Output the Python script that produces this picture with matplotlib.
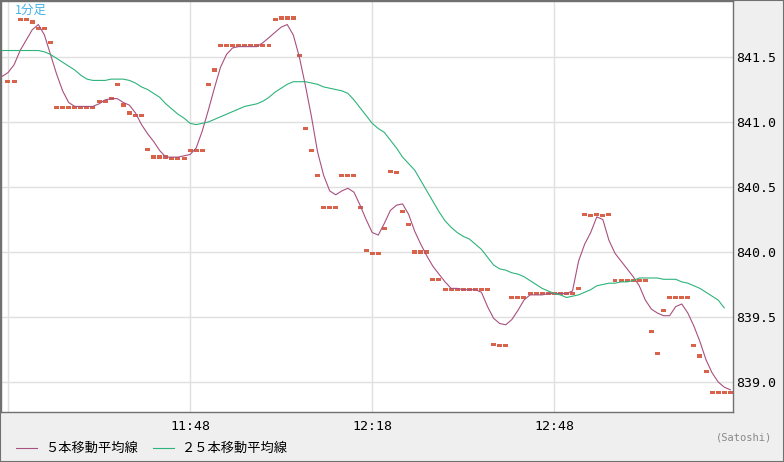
import numpy as np
import matplotlib
matplotlib.use("Agg")
import matplotlib.pyplot as plt
from matplotlib.lines import Line2D
from matplotlib.patches import Rectangle

# 1-minute closes, 11:18 .. 13:17
closes = [841.31, 841.31, 841.79, 841.79, 841.77, 841.72, 841.72, 841.61, 841.11, 841.11,
          841.11, 841.11, 841.11, 841.11, 841.11, 841.16, 841.16, 841.18, 841.29, 841.13,
          841.07, 841.05, 841.05, 840.79, 840.73, 840.73, 840.73, 840.72, 840.72, 840.72,
          840.78, 840.78, 840.78, 841.29, 841.40, 841.59, 841.59, 841.59, 841.59, 841.59,
          841.59, 841.59, 841.59, 841.59, 841.79, 841.80, 841.80, 841.80, 841.51, 840.95,
          840.78, 840.59, 840.34, 840.34, 840.34, 840.59, 840.59, 840.59, 840.34, 840.01,
          839.99, 839.99, 840.18, 840.62, 840.61, 840.31, 840.21, 840.00, 840.00, 840.00,
          839.79, 839.79, 839.71, 839.71, 839.71, 839.71, 839.71, 839.71, 839.71, 839.71,
          839.29, 839.28, 839.28, 839.65, 839.65, 839.65, 839.68, 839.68, 839.68, 839.68,
          839.68, 839.68, 839.68, 839.68, 839.72, 840.29, 840.28, 840.29, 840.28, 840.29,
          839.78, 839.78, 839.78, 839.78, 839.78, 839.78, 839.39, 839.22, 839.55, 839.65,
          839.65, 839.65, 839.65, 839.28, 839.20, 839.08, 838.92, 838.92, 838.92, 838.92]

# moving averages, starting one minute before 11:18
ma5 = [841.35, 841.38, 841.44, 841.55, 841.63, 841.71, 841.75, 841.67, 841.52, 841.37,
       841.24, 841.15, 841.12, 841.12, 841.12, 841.12, 841.14, 841.17, 841.18, 841.18,
       841.15, 841.13, 841.07, 840.98, 840.91, 840.85, 840.78, 840.73, 840.73, 840.73,
       840.74, 840.75, 840.80, 840.93, 841.09, 841.26, 841.42, 841.52, 841.57, 841.58,
       841.58, 841.58, 841.58, 841.61, 841.65, 841.69, 841.73, 841.75, 841.67, 841.50,
       841.28, 841.04, 840.77, 840.59, 840.47, 840.44, 840.47, 840.49, 840.46, 840.36,
       840.25, 840.15, 840.13, 840.22, 840.32, 840.36, 840.37, 840.29, 840.16, 840.06,
       839.97, 839.89, 839.83, 839.77, 839.72, 839.72, 839.71, 839.71, 839.71, 839.69,
       839.58, 839.49, 839.45, 839.44, 839.48, 839.55, 839.63, 839.67, 839.67, 839.67,
       839.68, 839.68, 839.68, 839.68, 839.70, 839.93, 840.06, 840.15, 840.27, 840.25,
       840.09, 839.99, 839.93, 839.87, 839.81, 839.74, 839.63, 839.56, 839.53, 839.51,
       839.51, 839.58, 839.60, 839.53, 839.43, 839.31, 839.17, 839.07, 839.00, 838.96,
       838.94]
ma25 = [841.55, 841.55, 841.55, 841.55, 841.55, 841.55, 841.55, 841.54, 841.52, 841.49,
        841.46, 841.43, 841.40, 841.36, 841.33, 841.32, 841.32, 841.32, 841.33, 841.33,
        841.33, 841.32, 841.30, 841.27, 841.25, 841.22, 841.19, 841.14, 841.10, 841.06,
        841.03, 840.99, 840.98, 840.99, 841.00, 841.02, 841.04, 841.06, 841.08, 841.10,
        841.12, 841.13, 841.14, 841.16, 841.19, 841.23, 841.26, 841.29, 841.31, 841.31,
        841.31, 841.30, 841.29, 841.27, 841.26, 841.25, 841.24, 841.22, 841.17, 841.11,
        841.05, 840.99, 840.95, 840.92, 840.86, 840.80, 840.73, 840.68, 840.63, 840.55,
        840.47, 840.39, 840.31, 840.24, 840.19, 840.15, 840.12, 840.10, 840.06, 840.02,
        839.96, 839.90, 839.87, 839.86, 839.84, 839.83, 839.81, 839.78, 839.75, 839.72,
        839.70, 839.68, 839.67, 839.65, 839.66, 839.67, 839.69, 839.71, 839.74, 839.75,
        839.76, 839.76, 839.77, 839.77, 839.78, 839.80, 839.80, 839.80, 839.80, 839.79,
        839.79, 839.79, 839.77, 839.76, 839.74, 839.72, 839.69, 839.66, 839.63, 839.57]

tick_idx = [0, 30, 60, 90]
tick_labels = ["", "11:48", "12:18", "12:48"]
y_ticks = [839.0, 839.5, 840.0, 840.5, 841.0, 841.5]

c_bar = "#d9634a"
c_ma5 = "#a8507e"
c_ma25 = "#2db37b"
border = "#707070"
jp = ["Noto Sans CJK JP", "DejaVu Sans"]

W, H = 784, 462
fig = plt.figure(figsize=(W / 100, H / 100), dpi=100, facecolor="#efefef")
ax = fig.add_axes([1 / W, 50 / H, 732 / W, 411 / H])
ax.set_facecolor("white")

x = np.arange(len(closes))
ax.bar(x, 0.026, bottom=np.array(closes) - 0.013, width=0.82, color=c_bar, linewidth=0, zorder=3)
ax.plot(np.arange(-1, len(ma5) - 1), ma5, color=c_ma5, lw=0.8, zorder=4)
ax.plot(np.arange(-1, len(ma25) - 1), ma25, color=c_ma25, lw=0.8, zorder=4)

ax.set_xlim(-1.15, 119.44)
ax.set_ylim(838.769, 841.931)
ax.set_xticks(tick_idx)
ax.set_xticklabels(tick_labels, family="DejaVu Sans Mono", fontsize=9.5)
ax.set_yticks(y_ticks)
ax.set_yticklabels([f"{v:.1f}" for v in y_ticks], family="DejaVu Sans Mono", fontsize=9.5)
ax.yaxis.tick_right()
ax.tick_params(axis="both", length=0, colors="black")
ax.tick_params(axis="x", pad=6)
ax.tick_params(axis="y", pad=2)
ax.grid(True, color="#e0e0e0", lw=1.0, zorder=0)
ax.set_axisbelow(True)
for s in ax.spines.values():
    s.set_color(border)
    s.set_linewidth(1.0)

ax.text(14 / 732, 1 - 9 / 411, "1分足", transform=ax.transAxes, color="#45b4e6",
        fontsize=9, family=jp, va="center", ha="left")

# legend drawn in figure pixels
ly = 1 - 448 / H
fig.add_artist(Line2D([16 / W, 37 / W], [ly, ly], color=c_ma5, lw=0.8))
fig.text(45 / W, ly, "５本移動平均線", fontsize=9.5, family=jp, va="center")
fig.add_artist(Line2D([153 / W, 174 / W], [ly, ly], color=c_ma25, lw=0.8))
fig.text(182 / W, ly, "２５本移動平均線", fontsize=9.5, family=jp, va="center")
fig.text(772 / W, 1 - 438 / H, "(Satoshi)", fontsize=7.5, family="DejaVu Sans Mono",
         color="#888888", ha="right", va="center")

fig.add_artist(Rectangle((0, 0), 1, 1, transform=fig.transFigure, fill=False,
                         ec=border, lw=1.5))

fig.savefig("out.png", dpi=100, facecolor=fig.get_facecolor())
